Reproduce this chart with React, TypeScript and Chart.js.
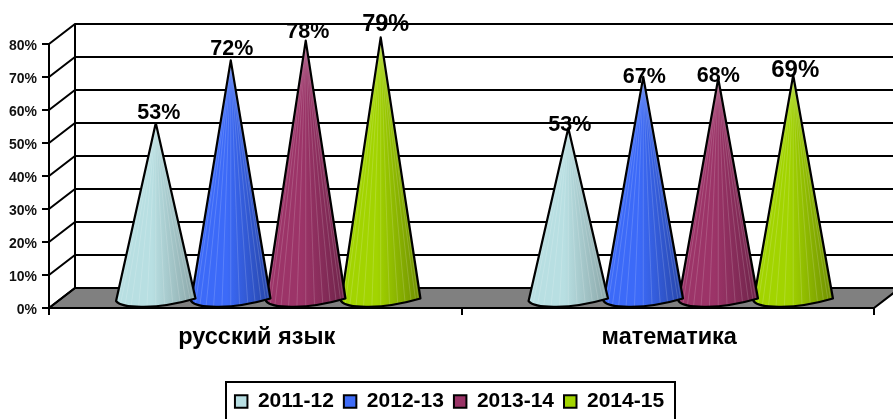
import React, { useEffect, useRef } from "react";
import { Chart, BarController, BarElement, CategoryScale, LinearScale, Legend } from "chart.js";

const categories = ["русский язык", "математика"];
const seasons = ["2011-12", "2012-13", "2013-14", "2014-15"];
// cone heights
const values2011 = [53, 51.5];
const values2012 = [72, 67];
const values2013 = [78, 66.5];
const values2014 = [79, 67.5];
// the percentages printed above the cones
const printed2011 = ["53%", "53%"];
const printed2012 = ["72%", "67%"];
const printed2013 = ["78%", "68%"];
const printed2014 = ["79%", "69%"];
const yTicks = [0, 10, 20, 30, 40, 50, 60, 70, 80];

const FONT = '"Liberation Sans", Arial, sans-serif';
const DX = 26;
const DY = -20;
const swatch = ["#B8DFE3", "#3F6CF7", "#993366", "#A2D400"];
const lights = ["#B8DFE2", "#3C6AF8", "#9C3468", "#A2D400"];
const darks = ["#8AA6A8", "#2645A8", "#6E2349", "#6F8F00"];
const printed = [printed2011, printed2012, printed2013, printed2014];
// hand-placed data labels: [dx, dy, size] relative to each cone's tip
const labelNudge: number[][][] = [
  [[3, -10, 21.5], [1.5, -3, 21.5]],
  [[1, -11, 21.5], [1, 0.5, 21.5]],
  [[2, -9, 21.5], [0, -2, 21.5]],
  [[5, -13, 23.5], [2, -5, 24]],
];

class ConeElement extends BarElement {
  static id = "coneElement";
  draw(ctx: CanvasRenderingContext2D) {
    const el = this as any;
    const ds = el.$coneIndex ?? 0;
    const half = el.width * 0.53;
    const cx = el.x + DX / 2;
    const tipY = el.y + DY / 2;
    const baseY = el.base + DY / 2;
    const lx = cx - half;
    const rx = cx + half;
    const ly = baseY + 4;
    const ry = baseY + 1.5;
    ctx.save();
    const path = () => {
      ctx.beginPath();
      ctx.moveTo(cx, tipY);
      ctx.lineTo(lx, ly);
      ctx.bezierCurveTo(lx + 6, baseY + 12, cx + 2, baseY + 12.5, rx, ry);
      ctx.closePath();
    };
    const g = ctx.createLinearGradient(lx, 0, rx, 0);
    g.addColorStop(0, lights[ds]);
    g.addColorStop(0.45, lights[ds]);
    g.addColorStop(1, darks[ds]);
    path();
    ctx.fillStyle = g;
    ctx.fill();
    ctx.save();
    path();
    ctx.clip();
    ctx.strokeStyle = "rgba(255,255,255,0.16)";
    ctx.lineWidth = 1;
    for (let i = 1; i < 14; i++) {
      const t = Math.cos((Math.PI * i) / 14);
      ctx.beginPath();
      ctx.moveTo(cx, tipY);
      ctx.lineTo(cx - t * half, baseY + 10);
      ctx.stroke();
    }
    ctx.restore();
    path();
    ctx.strokeStyle = "#000";
    ctx.lineWidth = 2.2;
    ctx.lineJoin = "round";
    ctx.stroke();
    ctx.restore();
  }
}

class ConeController extends BarController {
  static id = "cone";
  static defaults = { ...(BarController as any).defaults, dataElementType: "coneElement" };
  updateElements(bars: any[], start: number, count: number, mode: any) {
    super.updateElements(bars, start, count, mode);
    bars.forEach((b) => (b.$coneIndex = this.index));
  }
}

const wallPlugin = {
  id: "wall",
  beforeDraw(chart: any) {
    const { ctx, chartArea: a, scales } = chart;
    const y = scales.y;
    const y0 = y.getPixelForValue(0);
    const W = chart.width + 30;
    ctx.save();
    ctx.fillStyle = "#808080";
    ctx.strokeStyle = "#000";
    ctx.lineWidth = 2;
    ctx.beginPath();
    ctx.moveTo(a.left, y0);
    ctx.lineTo(a.left + DX, y0 + DY);
    ctx.lineTo(W, y0 + DY);
    ctx.lineTo(a.right + DX, y0 + DY);
    ctx.lineTo(a.right, y0);
    ctx.closePath();
    ctx.fill();
    ctx.stroke();
    for (const v of yTicks) {
      const p = y.getPixelForValue(v);
      ctx.beginPath();
      ctx.moveTo(a.left, p);
      ctx.lineTo(a.left + DX, p + DY);
      ctx.lineTo(W, p + DY);
      ctx.stroke();
    }
    ctx.beginPath();
    ctx.moveTo(a.left + DX, y.getPixelForValue(80) + DY);
    ctx.lineTo(a.left + DX, y0 + DY);
    ctx.stroke();
    ctx.restore();
  },
  afterDatasetsDraw(chart: any) {
    const { ctx } = chart;
    ctx.save();
    ctx.fillStyle = "#000";
    ctx.textAlign = "center";
    ctx.textBaseline = "middle";
    chart.data.datasets.forEach((_ds: any, i: number) => {
      chart.getDatasetMeta(i).data.forEach((el: any, j: number) => {
        const [nx, ny, size] = labelNudge[i][j];
        ctx.font = `bold ${size}px ${FONT}`;
        ctx.fillText(printed[i][j], el.x + DX / 2 + nx, el.y + DY / 2 + ny);
      });
    });
    ctx.restore();
  },
};

const legendBoxPlugin = {
  id: "legendBox",
  afterLayout(chart: any) {
    chart.legend.left += 12.5;
    chart.legend.right += 12.5;
    chart.legend.top += 3;
    chart.legend.bottom += 3;
  },
  afterDraw(chart: any) {
    const { ctx } = chart;
    ctx.save();
    ctx.strokeStyle = "#000";
    ctx.lineWidth = 2;
    ctx.strokeRect(226, 382, 449, chart.height);
    ctx.restore();
  },
};

Chart.register(ConeController, ConeElement, BarElement, CategoryScale, LinearScale, Legend);

export default function App() {
  const ref = useRef<HTMLCanvasElement>(null);
  useEffect(() => {
    const series = [values2011, values2012, values2013, values2014];
    const chart = new Chart(ref.current!, {
      type: "cone" as any,
      data: {
        labels: categories,
        datasets: series.map((data, i) => ({
          label: seasons[i],
          data,
          backgroundColor: swatch[i],
          borderColor: "#000",
          borderWidth: 2,
          categoryPercentage: 0.727,
          barPercentage: 1,
          clip: false,
        })),
      },
      plugins: [wallPlugin, legendBoxPlugin],
      options: {
        animation: false,
        responsive: false,
        layout: { padding: { top: 44, right: 19, left: 0, bottom: 0 } },
        plugins: {
          tooltip: { enabled: false },
          legend: {
            position: "bottom",
            labels: {
              boxWidth: 12.5,
              boxHeight: 12.5,
              padding: 10,
              color: "#000",
              font: { family: FONT, size: 21, weight: "bold" },
            },
          },
        },
        scales: {
          x: {
            type: "category",
            offset: true,
            afterFit: (s: any) => { s.height = 70; },
            grid: { offset: true, drawOnChartArea: false, drawTicks: true, tickLength: 7, color: "#000", lineWidth: 2 },
            border: { color: "#000", width: 2 },
            ticks: { color: "#000", padding: 8, labelOffset: 1.5, maxRotation: 0, font: { family: FONT, size: 23.5, weight: "bold" } },
          },
          y: {
            type: "linear",
            min: 0,
            max: 80,
            afterFit: (s: any) => { s.width = 49; },
            afterBuildTicks: (s: any) => { s.ticks = yTicks.map((value) => ({ value })); },
            grid: { drawOnChartArea: false, drawTicks: true, tickLength: 7, color: "#000", lineWidth: 2 },
            border: { color: "#000", width: 2 },
            ticks: {
              color: "#111",
              padding: 5,
              labelOffset: 2.5,
              font: { family: FONT, size: 14, weight: "bold" },
              callback: (v: any) => `${v}%`,
            },
          },
        },
      } as any,
    });
    return () => chart.destroy();
  }, []);
  return (
    <div style={{ position: "fixed", left: 0, top: 0, width: 893, height: 419, background: "#fff" }}>
      <canvas ref={ref} width={893} height={419} style={{ display: "block" }} />
    </div>
  );
}
